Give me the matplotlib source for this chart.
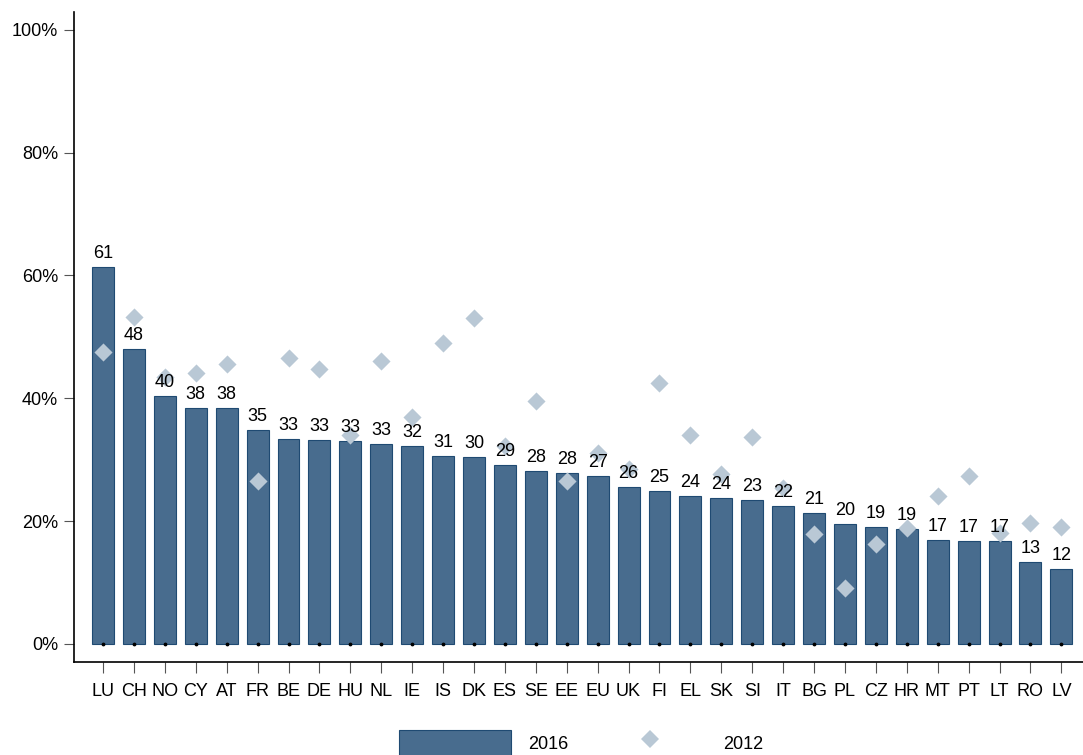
import numpy as np
import matplotlib
matplotlib.use('Agg')
import matplotlib.pyplot as plt
from matplotlib.lines import Line2D
from matplotlib.patches import Patch

plt.rcParams['font.family'] = ['Liberation Sans', 'DejaVu Sans']

countries = ['LU', 'CH', 'NO', 'CY', 'AT', 'FR', 'BE', 'DE', 'HU', 'NL', 'IE', 'IS',
             'DK', 'ES', 'SE', 'EE', 'EU', 'UK', 'FI', 'EL', 'SK', 'SI', 'IT', 'BG',
             'PL', 'CZ', 'HR', 'MT', 'PT', 'LT', 'RO', 'LV']
val_2016 = [61.4, 48.0, 40.4, 38.4, 38.4, 34.9, 33.4, 33.2, 33.1, 32.6, 32.3, 30.6,
            30.4, 29.2, 28.1, 27.9, 27.4, 25.6, 24.9, 24.1, 23.8, 23.4, 22.4, 21.3,
            19.6, 19.1, 18.7, 16.9, 16.8, 16.7, 13.4, 12.2]
val_2012 = [47.6, 53.2, 43.5, 44.1, 45.6, 26.5, 46.6, 44.8, 34.0, 46.1, 37.0, 49.0,
            53.1, 32.2, 39.6, 26.5, 31.1, 28.5, 42.5, 34.0, 27.7, 33.7, 25.4, 17.9,
            9.1, 16.3, 18.9, 24.1, 27.4, 18.1, 19.7, 19.1]

bar_color = '#486c8e'
edge_color = '#1f4a72'
dia_color = '#b9c8d5'

fig = plt.figure(figsize=(10.83, 7.55), dpi=100)
ax = fig.add_axes([0.0683, 0.1232, 0.9317, 0.861])

x = np.arange(len(countries))
ax.bar(x, val_2016, width=0.71, color=bar_color, edgecolor=edge_color, linewidth=0.8, zorder=2)
ax.scatter(x, val_2012, marker='D', s=85, color=dia_color, linewidths=0, zorder=3)
ax.scatter(x, np.zeros(len(x)), marker='o', s=3, color='black', zorder=4)

# etiquetas 2016 encima de cada barra
for xi, v in zip(x, val_2016):
    ax.text(xi, v + 0.8, f'{round(v)}', ha='center', va='bottom', fontsize=13, zorder=5)

ax.set_xlim(-0.94, 31.7)
ax.set_ylim(-2.93, 102.9)
ax.set_yticks([0, 20, 40, 60, 80, 100])
ax.set_yticklabels(['0%', '20%', '40%', '60%', '80%', '100%'])
ax.set_xticks(x)
ax.set_xticklabels(countries)
ax.tick_params(axis='y', length=7.5, width=0.8, color='#555555', pad=4, labelsize=13)
ax.tick_params(axis='x', length=8, width=0.8, color='#555555', pad=7, labelsize=13)

ax.spines['top'].set_visible(False)
ax.spines['right'].set_visible(False)
ax.spines['left'].set_linewidth(1.2)
ax.spines['bottom'].set_linewidth(1.2)

handles = [Patch(facecolor=bar_color, edgecolor=edge_color, linewidth=0.8),
           Line2D([], [], marker='D', linestyle='none', markersize=9,
                  markerfacecolor=dia_color, markeredgewidth=0)]
fig.legend(handles, ['2016', '2012'], loc='upper left', bbox_to_anchor=(0.3684, 0.0331),
           ncol=2, frameon=False, fontsize=13, borderpad=0, borderaxespad=0,
           handlelength=6.2, handleheight=1.8, handletextpad=0.94, columnspacing=1.44)

fig.savefig('out.png', dpi=100)
